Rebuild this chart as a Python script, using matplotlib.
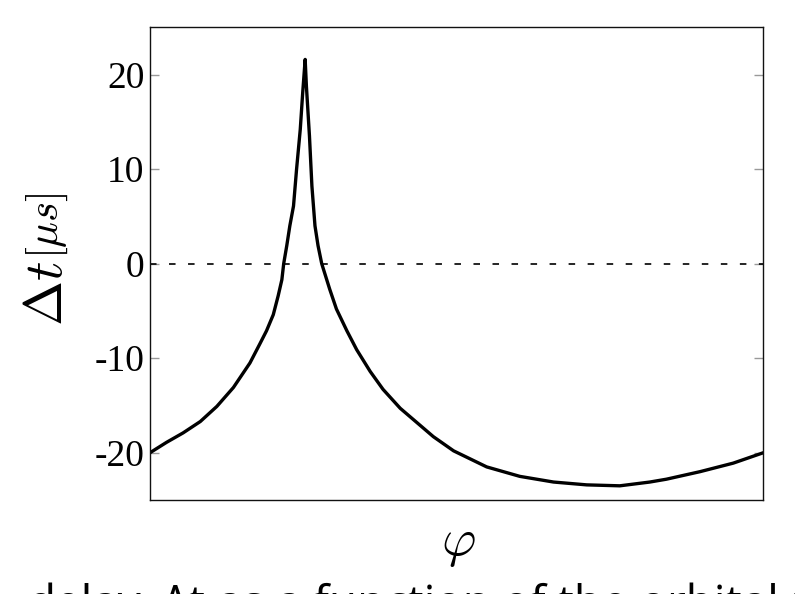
import matplotlib
matplotlib.use("Agg")
import matplotlib.pyplot as plt

# Orbital phase (fraction of the plotted range) and delay values (microseconds)
phase = [0.000, 0.027, 0.054, 0.082, 0.109, 0.136, 0.163, 0.179, 0.190, 0.201,
         0.209, 0.215, 0.218, 0.223, 0.228, 0.234, 0.239, 0.245, 0.249, 0.253,
         0.255, 0.260, 0.264, 0.269, 0.274, 0.280, 0.293, 0.304, 0.321, 0.337,
         0.359, 0.380, 0.408, 0.435, 0.462, 0.495, 0.549, 0.603, 0.658, 0.712,
         0.766, 0.815, 0.842, 0.897, 0.951, 1.000]
delay = [-20.0, -18.9, -17.9, -16.7, -15.1, -13.1, -10.5, -8.5, -7.1, -5.4,
         -3.4, -1.7, 0.0, 1.9, 4.0, 6.1, 10.0, 14.2, 18.1, 21.6,
         18.8, 13.5, 8.2, 4.0, 1.9, 0.0, -2.7, -4.8, -7.1, -9.1,
         -11.4, -13.3, -15.3, -16.8, -18.3, -19.8, -21.5, -22.5, -23.1, -23.4,
         -23.5, -23.1, -22.8, -22.0, -21.1, -20.0]
yticks = [-20, -10, 0, 10, 20]
ytick_labels = ["-20", "-10", "0", "10", "20"]
caption_left = "delay"
caption_right = "Δt as a function of the orbital phase"

plt.rcParams['mathtext.fontset'] = 'cm'
plt.rcParams['lines.scale_dashes'] = False

fig = plt.figure(figsize=(7.95, 5.94), dpi=100)
ax = fig.add_axes([150/795, 1-500/594, (763.3-150)/795, (500-27.3)/594])

ax.plot(phase, delay, color='black', lw=2.4, solid_joinstyle='round')
ax.axhline(0, color='black', lw=1.2, linestyle=(0, (4.7, 9.0)))

ax.set_xlim(0, 1)
ax.set_ylim(-25, 25)
ax.set_xticks([])
ax.set_yticks(yticks)
ax.set_yticklabels(ytick_labels, fontfamily='Liberation Serif', fontsize=27)
ax.tick_params(axis='y', direction='in', length=6.5, width=1.0, color='#999999',
               left=True, right=True, pad=4)
for s in ax.spines.values():
    s.set_linewidth(1.0)
    s.set_color('#111111')

fig.text(47/795, 1-293/594, r'$\Delta t$', rotation=90, ha='center', va='center', fontsize=39)
fig.text(47/795, 1-226/594, r'$[\mu s]$', rotation=90, ha='center', va='center', fontsize=31)
fig.text(458/795, 1-543/594, r'$\varphi$', ha='center', va='center', fontsize=38)

fig.text(28/795, 1-618/594, caption_left,
         fontfamily='Open Sans', fontsize=33, ha='left', va='baseline')
fig.text(162/795, 1-618/594, caption_right,
         fontfamily='Open Sans', fontsize=33, ha='left', va='baseline')

fig.savefig('out.png', dpi=100)
